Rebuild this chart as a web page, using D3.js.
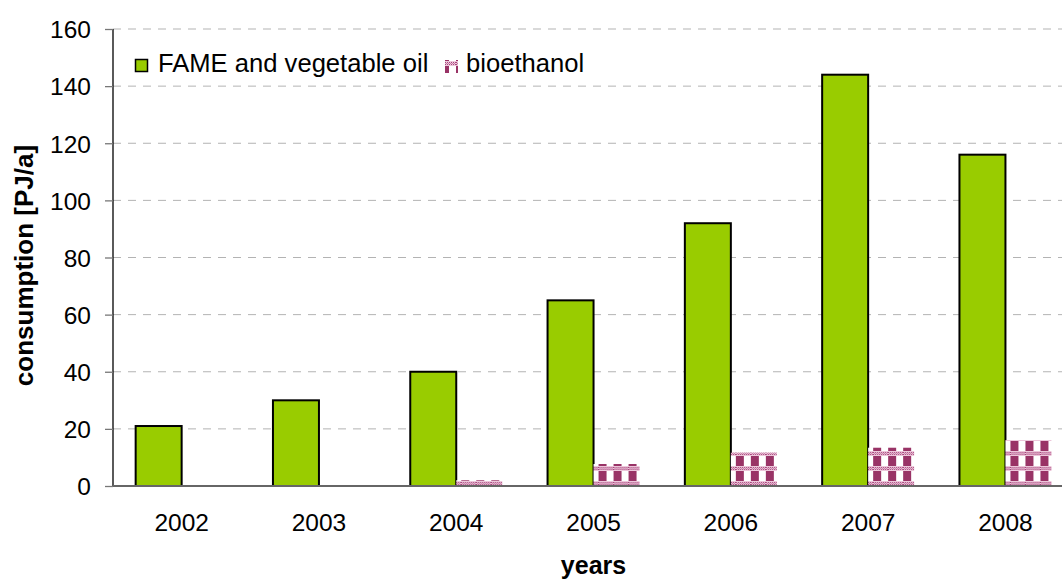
<!DOCTYPE html>
<html>
<head>
<meta charset="utf-8">
<script src="https://cdn.jsdelivr.net/npm/d3@7"></script>
<style>
  html, body { margin: 0; padding: 0; background: #fff; overflow: hidden; }
  svg { display: block; font-family: Arial, "Liberation Sans", sans-serif; }
</style>
</head>
<body>
<div id="chart"></div>
<script>
/* data */
const years = ['2002', '2003', '2004', '2005', '2006', '2007', '2008'];
const seriesNames = ['FAME and vegetable oil', 'bioethanol'];
const fame = [21, 30, 40, 65, 92, 144, 116];
const bioethanol = [0, 0, 2, 7.7, 11.7, 13.4, 16.1];
const yTicks = [0, 20, 40, 60, 80, 100, 120, 140, 160];

const W = 1062, H = 581;
const plot = { left: 113, top: 29, bottom: 486, right: 113 + 7 * 137.3 };

const svg = d3.select('#chart')
  .append('svg')
  .attr('width', W)
  .attr('height', H);

/*pattern for bioethanol*/
const defs = svg.append('defs');
const pat = defs.append('pattern')
  .attr('id', 'bioPat')
  .attr('patternUnits', 'userSpaceOnUse')
  .attr('x', 6)
  .attr('y', 486 - 15)
  .attr('width', 15)
  .attr('height', 15);
pat.append('rect').attr('width', 15).attr('height', 15).attr('fill', '#fff');
// dotted light band
pat.append('rect').attr('x', 0).attr('y', 10).attr('width', 15).attr('height', 5).attr('fill', '#ecc6da');
for (let i = 0; i < 15; i += 2) {
  pat.append('rect').attr('x', i).attr('y', 11).attr('width', 1).attr('height', 1).attr('fill', '#a8467c');
  pat.append('rect').attr('x', i + 1).attr('y', 12).attr('width', 1).attr('height', 1).attr('fill', '#c77aa5');
  pat.append('rect').attr('x', i).attr('y', 13).attr('width', 1).attr('height', 1).attr('fill', '#a8467c');
}
// dark block
pat.append('rect').attr('x', 0).attr('y', 0).attr('width', 8).attr('height', 10).attr('fill', '#993366');

const x0 = d3.scaleBand()
  .domain(years)
  .range([plot.left, plot.right])
  .paddingInner(0.33)
  .paddingOuter(0.165);

const x1 = d3.scaleBand()
  .domain(seriesNames)
  .range([0, x0.bandwidth()]);

const y = d3.scaleLinear()
  .domain([0, 160])
  .range([plot.bottom, plot.top]);

/*grid*/
svg.append('g')
  .selectAll('line')
  .data(yTicks.filter(d => d > 0))
  .enter()
  .append('line')
  .attr('x1', plot.left)
  .attr('x2', W)
  .attr('y1', d => y(d))
  .attr('y2', d => y(d))
  .attr('stroke', '#b3b3b3')
  .attr('stroke-width', 1)
  .attr('stroke-dasharray', '8,7');

/*y axis*/
const yAxis = svg.append('g')
  .attr('transform', `translate(${plot.left},0)`)
  .call(d3.axisLeft(y).tickValues(yTicks).tickSize(8).tickPadding(14));
yAxis.select('.domain').attr('stroke', '#000').attr('stroke-width', 1.3)
  .attr('d', `M0,${plot.top}V${plot.bottom}`);
yAxis.selectAll('.tick line').attr('stroke', '#777').attr('stroke-width', 1.3);
yAxis.selectAll('.tick text')
  .attr('fill', '#000')
  .style('font-size', '24.5px')
  .style('font-family', 'Arial, "Liberation Sans", sans-serif')
  .attr('dy', '0.36em');

/*bars*/
const groups = svg.append('g')
  .selectAll('g')
  .data(years)
  .enter()
  .append('g')
  .attr('transform', d => `translate(${x0(d)},0)`);

groups.append('rect')
  .attr('x', x1(seriesNames[0]))
  .attr('width', x1.bandwidth())
  .attr('y', (d, i) => y(fame[i]))
  .attr('height', (d, i) => y(0) - y(fame[i]))
  .attr('fill', '#99cc00')
  .attr('stroke', '#000')
  .attr('stroke-width', 2);

groups.append('rect')
  .attr('x', x1(seriesNames[1]))
  .attr('width', x1.bandwidth())
  .attr('y', (d, i) => y(bioethanol[i]))
  .attr('height', (d, i) => y(0) - y(bioethanol[i]))
  .attr('fill', 'url(#bioPat)');

/*x axis*/
svg.append('line')
  .attr('x1', plot.left)
  .attr('x2', W)
  .attr('y1', plot.bottom)
  .attr('y2', plot.bottom)
  .attr('stroke', '#666')
  .attr('stroke-width', 2);

svg.append('g')
  .selectAll('text')
  .data(years)
  .enter()
  .append('text')
  .attr('x', d => x0(d) + x0.bandwidth() / 2)
  .attr('y', 531)
  .attr('text-anchor', 'middle')
  .style('font-size', '24.5px')
  .text(d => d);

/*titles*/
svg.append('text')
  .attr('x', (plot.left + plot.right) / 2)
  .attr('y', 574)
  .attr('text-anchor', 'middle')
  .style('font-size', '25px')
  .style('font-weight', 'bold')
  .text('years');

svg.append('text')
  .attr('transform', `translate(33,${(plot.top + plot.bottom) / 2 + 8}) rotate(-90)`)
  .attr('text-anchor', 'middle')
  .style('font-size', '26px')
  .style('font-weight', 'bold')
  .text('consumption [PJ/a]');

/*legend*/
const legend = svg.append('g');
legend.append('rect')
  .attr('x', 135.5).attr('y', 59.5).attr('width', 12).attr('height', 12)
  .attr('fill', '#99cc00').attr('stroke', '#000').attr('stroke-width', 1.5);
legend.append('text')
  .attr('x', 158).attr('y', 72)
  .style('font-size', '25.6px')
  .text(seriesNames[0]);
legend.append('rect')
  .attr('x', 445).attr('y', 60).attr('width', 13).attr('height', 13)
  .attr('fill', 'url(#bioPat)');
legend.append('text')
  .attr('x', 466).attr('y', 72)
  .style('font-size', '25.6px')
  .text(seriesNames[1]);
</script>
</body>
</html>
